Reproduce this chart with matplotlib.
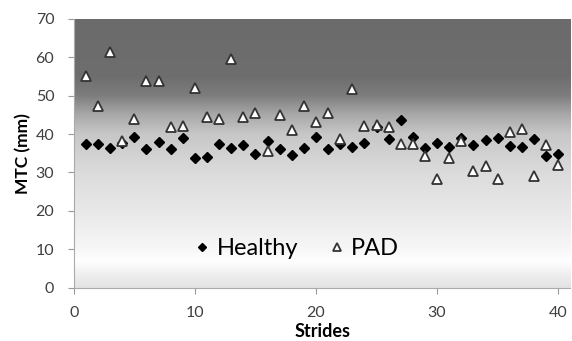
import numpy as np
import matplotlib
matplotlib.use("Agg")
import matplotlib.pyplot as plt
from matplotlib.colors import LinearSegmentedColormap

strides = list(range(1, 41))
healthy = [37.4, 37.3, 36.5, 37.8, 39.2, 36.0, 38.0, 36.0, 38.9, 33.9,
           34.1, 37.3, 36.4, 37.1, 34.8, 38.1, 36.0, 34.5, 36.3, 39.3,
           36.1, 37.5, 36.7, 37.6, 41.8, 38.6, 43.6, 39.3, 36.5, 37.8,
           36.7, 38.9, 37.1, 38.5, 39.0, 37.0, 36.7, 38.6, 34.3, 34.8]
pad = [55.1, 47.2, 61.4, 38.3, 43.9, 53.7, 53.9, 41.9, 42.1, 52.1,
       44.4, 43.9, 59.4, 44.5, 45.5, 35.5, 45.0, 41.0, 47.4, 43.1,
       45.5, 38.6, 51.8, 42.2, 42.3, 41.9, 37.3, 37.5, 34.4, 28.2,
       33.9, 38.2, 30.4, 31.8, 28.2, 40.6, 41.3, 29.1, 37.2, 31.9]
xticks = [0, 10, 20, 30, 40]
yticks = [0, 10, 20, 30, 40, 50, 60, 70]

plt.rcParams['font.family'] = ['Lato', 'DejaVu Sans']

fig = plt.figure(figsize=(5.72, 3.41), dpi=100)
ax = fig.add_axes([0.129, 0.156, 0.868, 0.789])
ax.set_xlim(0, 41)
ax.set_ylim(0, 70)

# background gradient
stops = [(0.0, 0.89), (3/70, 0.93), (7/70, 1.0), (10/70, 0.97), (20/70, 0.91),
         (30/70, 0.86), (40/70, 0.78), (45/70, 0.66), (50/70, 0.49),
         (55/70, 0.43), (1.0, 0.42)]
cmap = LinearSegmentedColormap.from_list('bg', [(p, (g, g, g)) for p, g in stops])
grad = np.linspace(0, 1, 512).reshape(-1, 1)
ax.imshow(grad, extent=[0, 41, 0, 70], origin='lower', aspect='auto',
          cmap=cmap, vmin=0, vmax=1, zorder=0, interpolation='bilinear')

ax.plot(strides, healthy, linestyle='none', marker='D', markersize=5.5,
        color='black', label='Healthy', zorder=3)
ax.plot(strides, pad, linestyle='none', marker='^', markersize=7.5,
        markerfacecolor='white', markeredgecolor='#333333', markeredgewidth=1.3,
        label='PAD', zorder=4)

ax.set_xticks(xticks)
ax.set_yticks(yticks)
ax.tick_params(axis='both', colors='#999999', labelcolor='#404040',
               labelsize=11.5, direction='out', length=4)
ax.tick_params(axis='x', pad=9)
ax.tick_params(axis='y', pad=10)
for s in ['top', 'right']:
    ax.spines[s].set_visible(False)
for s in ['left', 'bottom']:
    ax.spines[s].set_color('#aaaaaa')

ax.set_xlabel('Strides', fontsize=13, fontweight='bold', labelpad=2)
ax.set_ylabel('MTC (mm)', fontsize=12.5, fontweight='bold', labelpad=3)

leg = ax.legend(loc='center', bbox_to_anchor=(0.45, 0.145), ncol=2, frameon=False,
                fontsize=17, handletextpad=0.3, columnspacing=1.35,
                markerscale=0.7, handlelength=0.6)

fig.savefig('out.png', dpi=100)
